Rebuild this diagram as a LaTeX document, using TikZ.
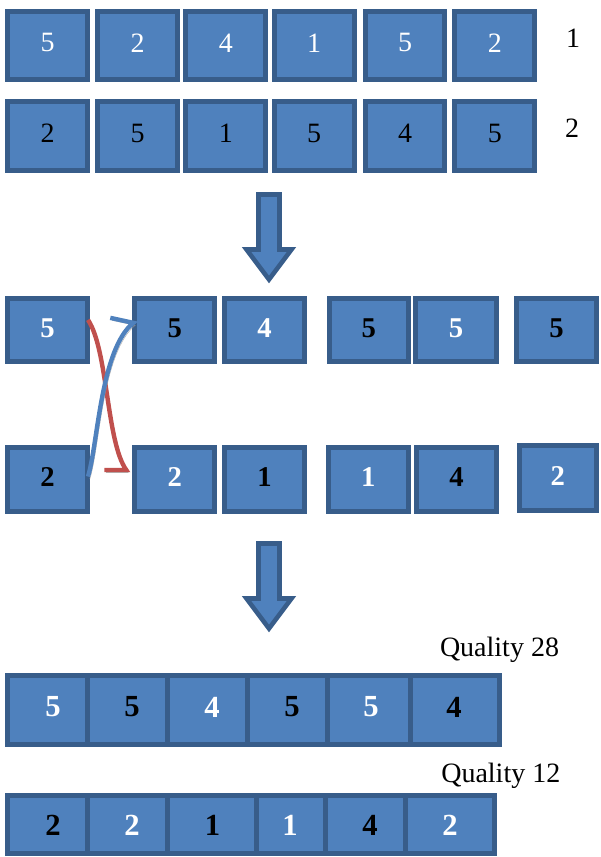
\documentclass[tikz,border=0pt]{standalone}
\usepackage{fontspec}
\setmainfont{Liberation Serif}
\usetikzlibrary{calc}

\definecolor{cellfill}{HTML}{4F81BD}
\definecolor{celledge}{HTML}{385D8A}
\definecolor{swapred}{HTML}{C0504D}
\definecolor{swapblue}{HTML}{4F81BD}

\newcommand\topfnt{\fontsize{21pt}{24pt}\selectfont}
\newcommand\midfnt{\fontsize{21.5pt}{25pt}\selectfont\bfseries}
\newcommand\lowfnt{\fontsize{23pt}{26pt}\selectfont\bfseries}

% one gene cell: name, x1, y1, x2, y2 (outer edges, px), extra style, text
\newcommand\cell[7]{%
  \node[cellbox,#6,
        minimum width={(#4-#2-5)*0.75pt},
        minimum height={(#5-#3-5)*0.75pt}]
        (#1) at ({(#2+#4)/2},{(#3+#5)/2}) {#7};}

\begin{document}
\begin{tikzpicture}[x=0.75pt,y=-0.75pt,
  cellbox/.style={draw=celledge,fill=cellfill,line width=3.75pt,inner sep=0pt},
  wt/.style={text=white},
  bk/.style={text=black},
  raised/.style={text depth=4.5pt},
  lifted/.style={text depth=3pt},
  lbl/.style={font=\topfnt,inner sep=0pt},
  blockarrow/.style={draw=celledge,fill=cellfill,line width=3.4pt,line join=miter},
  swap/.style={line width=3.3pt,line join=miter,
    preaction={draw=black!40,opacity=0.75,transform canvas={shift={(1.8,2.5)}}}}]

\useasboundingbox (0,0) rectangle (600,857);

% ---- parent chromosomes ----
\cell{a1}{5.3}{9.3}{90}{82.3}{wt,raised,font=\topfnt}{5}
\cell{a2}{95}{9.3}{180}{82.3}{wt,raised,font=\topfnt}{2}
\cell{a3}{183.3}{9.3}{268.3}{82.3}{wt,raised,font=\topfnt}{4}
\cell{a4}{271.7}{9.3}{356.7}{82.3}{wt,raised,font=\topfnt}{1}
\cell{a5}{362.7}{9.3}{447.3}{82.3}{wt,raised,font=\topfnt}{5}
\cell{a6}{452.3}{9.3}{537.3}{82.3}{wt,raised,font=\topfnt}{2}
\node[lbl] (pone) at (573,38.5) {1};

\cell{b1}{5.3}{99.3}{90}{172.7}{bk,raised,font=\topfnt}{2}
\cell{b2}{95}{99.3}{180}{172.7}{bk,raised,font=\topfnt}{5}
\cell{b3}{183.3}{99.3}{268.3}{172.7}{bk,raised,font=\topfnt}{1}
\cell{b4}{271.7}{99.3}{356.7}{172.7}{bk,raised,font=\topfnt}{5}
\cell{b5}{362.7}{99.3}{447.3}{172.7}{bk,raised,font=\topfnt}{4}
\cell{b6}{452.3}{99.3}{537.3}{172.7}{bk,raised,font=\topfnt}{5}
\node[lbl] (ptwo) at (572,128) {2};

% ---- first block arrow ----
\draw[blockarrow] (258.5,194.5) -- (279.5,194.5) -- (279.5,249.5) -- (291.5,249.5)
  -- (269,279.5) -- (246.5,249.5) -- (258.5,249.5) -- cycle;

% ---- split chromosomes ----
\cell{m1}{5.3}{295.7}{90}{364}{wt,lifted,font=\midfnt}{5}
\cell{m2}{132.3}{295.7}{217.3}{364}{bk,lifted,font=\midfnt}{5}
\cell{m3}{222.3}{295.7}{306.7}{364}{wt,lifted,font=\midfnt}{4}
\cell{m4}{326.7}{295.7}{411}{364}{bk,lifted,font=\midfnt}{5}
\cell{m5}{413.3}{295.7}{498.7}{364}{wt,lifted,font=\midfnt}{5}
\cell{m6}{514.3}{295.7}{599}{364}{bk,lifted,font=\midfnt}{5}

\cell{n1}{5.3}{445}{90}{514}{bk,lifted,font=\midfnt}{2}
\cell{n2}{132.3}{445}{217.3}{514}{wt,lifted,font=\midfnt}{2}
\cell{n3}{222.3}{445}{306.7}{514}{bk,lifted,font=\midfnt}{1}
\cell{n4}{325.7}{445}{410.7}{514}{wt,lifted,font=\midfnt}{1}
\cell{n5}{414}{445}{499}{514}{bk,lifted,font=\midfnt}{4}
\cell{n6}{516.7}{443.3}{599}{512.7}{wt,lifted,font=\midfnt}{2}

% ---- crossover connectors ----
\draw[swap,draw=swapred] ([shift={(-2,-10)}]m1.east)
  .. controls +(20,30) and +(-20,-28) .. ([shift={(-6,-9.5)}]n2.west) -- +(-22,0);
\draw[swap,draw=swapblue] ([shift={(-2,-3)}]n1.east)
  .. controls +(10,-32) and +(-33,27) .. ([shift={(1,-7)}]m2.west) -- +(-23,-5);

% ---- second block arrow ----
\draw[blockarrow] (258.5,543.5) -- (279.5,543.5) -- (279.5,598.5) -- (291.5,598.5)
  -- (269,628.5) -- (246.5,598.5) -- (258.5,598.5) -- cycle;

% ---- offspring ----
\node[lbl,anchor=base] (qa) at (499.5,656.5) {Quality 28};
\cell{c1}{5.3}{673.3}{90}{746.7}{}{}
\cell{c2}{85}{673.3}{170}{746.7}{}{}
\cell{c3}{165}{673.3}{250}{746.7}{}{}
\cell{c4}{245}{673.3}{329.5}{746.7}{}{}
\cell{c5}{324.5}{673.3}{413}{746.7}{}{}
\cell{c6}{408}{673.3}{502}{746.7}{}{}
\node[wt,font=\lowfnt] (c1t) at (53,707) {5};
\node[bk,font=\lowfnt] (c2t) at (132,707) {5};
\node[wt,font=\lowfnt] (c3t) at (212,707) {4};
\node[bk,font=\lowfnt] (c4t) at (292,707) {5};
\node[wt,font=\lowfnt] (c5t) at (371,707) {5};
\node[bk,font=\lowfnt] (c6t) at (454,707) {4};

\node[lbl,anchor=base] (qb) at (500.8,782) {Quality 12};
\cell{d1}{5.3}{793.3}{90}{856}{}{}
\cell{d2}{85}{793.3}{170}{856}{}{}
\cell{d3}{165}{793.3}{259}{856}{}{}
\cell{d4}{254}{793.3}{327.5}{856}{}{}
\cell{d5}{322.5}{793.3}{407.5}{856}{}{}
\cell{d6}{402.5}{793.3}{497}{856}{}{}
\node[bk,font=\lowfnt] (d1t) at (53,825.5) {2};
\node[wt,font=\lowfnt] (d2t) at (132,825.5) {2};
\node[bk,font=\lowfnt] (d3t) at (212.5,825.5) {1};
\node[wt,font=\lowfnt] (d4t) at (290,825.5) {1};
\node[bk,font=\lowfnt] (d5t) at (370,825.5) {4};
\node[wt,font=\lowfnt] (d6t) at (450,825.5) {2};

\end{tikzpicture}
\end{document}
